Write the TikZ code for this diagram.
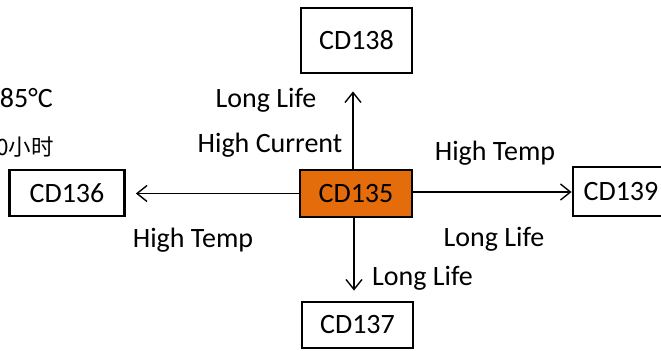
\documentclass[tikz,border=0pt]{standalone}
\usepackage{fontspec}
\setmainfont{Carlito}
\newfontfamily\cjk{Noto Sans CJK SC}
\usetikzlibrary{arrows.meta}
\definecolor{cdorange}{HTML}{E46C0A}
\begin{document}
\begin{tikzpicture}[x=1bp,y=-1bp,
  box/.style={draw=black, line width=2.8bp, inner sep=0pt, font=\fontsize{28bp}{32bp}\selectfont},
  lbl/.style={inner sep=0pt, font=\fontsize{28bp}{32bp}\selectfont},
  arr/.style={line width=1.4bp, -{Straight Barb[length=10bp,width=16bp,line width=1.4bp]}}]
\useasboundingbox (0,0) rectangle (661,350);
\node[box, fill=cdorange, minimum width=112bp, minimum height=47bp] (c135) at (356,193.5) {CD135};
\node[box, minimum width=111bp, minimum height=65bp] (c138) at (356.5,40.5) {CD138};
\node[box, minimum width=115bp, minimum height=46bp] (c136) at (67,193) {CD136};
\node[box, minimum width=96bp, minimum height=49bp] (c139) at (621,191.5) {CD139};
\node[box, minimum width=111bp, minimum height=46bp] (c137) at (357.5,325) {CD137};
% arrows
\draw[arr, shorten >=17bp] ([xshift=-3bp]c135.north) -- ([xshift=-3bp]c135.north |- c138.south);
\draw[arr, shorten >=10bp] ([xshift=-2bp]c135.south) -- ([xshift=-2bp]c135.south |- c137.north);
\draw[arr, shorten >=10bp] (c135.west) -- (c135.west -| c136.east);
\draw[arr] ([yshift=1.5bp]c135.east) -- ([yshift=1.5bp]c135.east -| c139.west);
% labels
\node[lbl] (l1) at (266,100) {Long Life};
\node[lbl] (l2) at (270,145) {High Current};
\node[lbl] (l3) at (495,153) {High Temp};
\node[lbl] (l4) at (494,239) {Long Life};
\node[lbl] (l5) at (193,240) {High Temp};
\node[lbl, anchor=west] (l6) at (372,278) {Long Life};
% clipped side text
\node[lbl, anchor=east] (t1) at (53,98) {85°C};
\node[inner sep=0pt, anchor=east, font=\cjk\fontsize{22.5bp}{26bp}\selectfont] (t2) at (54,147) {0小时};
\end{tikzpicture}
\end{document}
